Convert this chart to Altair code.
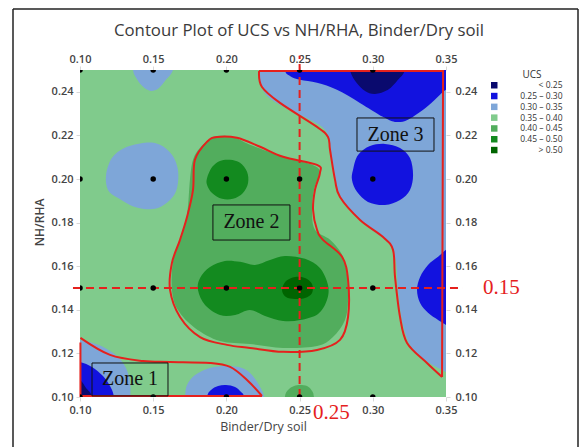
import altair as alt
import pandas as pd

FONT = "Open Sans"
SERIF = "Liberation Serif"
RED = "#e5211d"

X_TICKS = [0.10, 0.15, 0.20, 0.25, 0.30, 0.35]
Y_TICKS = [0.10, 0.12, 0.14, 0.16, 0.18, 0.20, 0.22, 0.24]
BANDS = ["<  0.25", "0.25  –  0.30", "0.30  –  0.35", "0.35  –  0.40",
         "0.40  –  0.45", "0.45  –  0.50", ">  0.50"]
BAND_COLORS = ["#0a0a6e", "#1212df", "#7ea6d8", "#80cb8c", "#52ad5d", "#138a1f", "#006400"]

DESIGN_X = [0.10, 0.15, 0.20, 0.25, 0.30]
DESIGN_Y = [0.10, 0.15, 0.20, 0.25]

# contour band regions, (Binder/Dry soil, NH/RHA)
BAND2_REGIONS = [
    [(0.134, 0.26), (0.1362, 0.25), (0.1383, 0.2465), (0.1424, 0.2428), (0.1478, 0.2405),
     (0.1533, 0.2414), (0.1587, 0.2455), (0.1635, 0.25), (0.166, 0.26)],
    [(0.1178, 0.2019), (0.1219, 0.2097), (0.1307, 0.2143), (0.1444, 0.2166), (0.1546, 0.2157),
     (0.1628, 0.2111), (0.1669, 0.2042), (0.1663, 0.1959), (0.1615, 0.1904), (0.1512, 0.1863),
     (0.1376, 0.1872), (0.1260, 0.1913), (0.1191, 0.1950)],
    [(0.2215, 0.26), (0.2223, 0.25), (0.2236, 0.2432), (0.2284, 0.2377), (0.2400, 0.2327),
     (0.2571, 0.2272), (0.2673, 0.2226), (0.2708, 0.2157), (0.2728, 0.2042), (0.2762, 0.1941),
     (0.2858, 0.1849), (0.2994, 0.1767), (0.3117, 0.1698), (0.3158, 0.1620), (0.3172, 0.1491),
     (0.3199, 0.1353), (0.3254, 0.1239), (0.3356, 0.1170), (0.35, 0.1115), (0.36, 0.108),
     (0.37, 0.20), (0.36, 0.26)],
    [(0.09, 0.127), (0.10, 0.1262), (0.1068, 0.1252), (0.1171, 0.1225), (0.1260, 0.1184),
     (0.1314, 0.1133), (0.1342, 0.1069), (0.1345, 0.10), (0.135, 0.09), (0.09, 0.09)],
    [(0.170, 0.09), (0.1717, 0.10), (0.1731, 0.1055), (0.1786, 0.1101), (0.1888, 0.1133),
     (0.2004, 0.1142), (0.2107, 0.1133), (0.2175, 0.1101), (0.2230, 0.1046), (0.2257, 0.10),
     (0.227, 0.09)],
]
BAND1_REGIONS = [
    [(0.239, 0.26), (0.2400, 0.25), (0.2434, 0.2473), (0.2503, 0.2455), (0.2619, 0.2441),
     (0.2755, 0.2409), (0.2912, 0.2349), (0.3069, 0.2285), (0.3151, 0.2262), (0.3240, 0.2272),
     (0.3370, 0.2331), (0.3459, 0.2386), (0.35, 0.2409), (0.36, 0.245), (0.36, 0.26)],
    [(0.2865, 0.2042), (0.2899, 0.2110), (0.2981, 0.2151), (0.3083, 0.2161), (0.3186, 0.2142),
     (0.3254, 0.2096), (0.3275, 0.2018), (0.3254, 0.1950), (0.3186, 0.1904), (0.3083, 0.1881),
     (0.2967, 0.1895), (0.2892, 0.1941), (0.2858, 0.1995)],
    [(0.36, 0.172), (0.35, 0.1675), (0.3446, 0.1643), (0.3377, 0.1606), (0.3323, 0.1551),
     (0.3302, 0.1491), (0.3323, 0.1431), (0.3377, 0.1386), (0.3446, 0.1353), (0.35, 0.1330),
     (0.36, 0.128)],
    [(0.09, 0.117), (0.10, 0.1161), (0.1082, 0.1138), (0.1157, 0.1096), (0.1205, 0.1050),
     (0.1232, 0.10), (0.124, 0.09), (0.09, 0.09)],
    [(0.1855, 0.09), (0.1868, 0.10), (0.1895, 0.1032), (0.1943, 0.1050), (0.1997, 0.1055),
     (0.2059, 0.1046), (0.2100, 0.1023), (0.2120, 0.10), (0.213, 0.09)],
]
BAND0_REGIONS = [
    [(0.283, 0.26), (0.2844, 0.25), (0.2885, 0.2445), (0.2947, 0.2404), (0.3015, 0.2390),
     (0.3104, 0.2409), (0.3172, 0.2455), (0.3220, 0.25), (0.324, 0.26)],
    [(0.09, 0.111), (0.10, 0.1078), (0.1041, 0.1041), (0.1082, 0.10), (0.109, 0.09), (0.09, 0.09)],
]
BAND4_REGIONS = [
    [(0.1772, 0.2088), (0.1820, 0.2143), (0.1888, 0.2184), (0.1956, 0.2198), (0.2059, 0.2189),
     (0.2161, 0.2157), (0.2387, 0.2102), (0.2605, 0.2060), (0.2633, 0.2019), (0.2598, 0.1950),
     (0.2585, 0.1858), (0.2605, 0.1767), (0.2708, 0.1721), (0.2790, 0.1652), (0.2824, 0.1560),
     (0.2831, 0.1445), (0.2810, 0.1353), (0.2728, 0.1275), (0.2619, 0.1234), (0.2387, 0.1225),
     (0.2161, 0.1243), (0.1956, 0.1257), (0.1785, 0.1317), (0.1669, 0.1399), (0.1628, 0.1491),
     (0.1635, 0.1620), (0.1683, 0.1721), (0.1731, 0.1835), (0.1751, 0.1996)],
    [(0.239, 0.09), (0.2400, 0.10), (0.2421, 0.1032), (0.2462, 0.1050), (0.2503, 0.1055),
     (0.2551, 0.1050), (0.2585, 0.1028), (0.2598, 0.10), (0.261, 0.09)],
]
BAND5_REGIONS = [
    [(0.1868, 0.2005), (0.1902, 0.2055), (0.1956, 0.2083), (0.2025, 0.2088), (0.2093, 0.2074),
     (0.2141, 0.2033), (0.2148, 0.1982), (0.2113, 0.1936), (0.2045, 0.1909), (0.1970, 0.1909),
     (0.1902, 0.1936), (0.1868, 0.1973)],
    [(0.1806, 0.1491), (0.1820, 0.1546), (0.1888, 0.1596), (0.1990, 0.1624), (0.2093, 0.1620),
     (0.2195, 0.1606), (0.2298, 0.1629), (0.2400, 0.1647), (0.2537, 0.1634), (0.2639, 0.1592),
     (0.2694, 0.1514), (0.2687, 0.1445), (0.2626, 0.1381), (0.2503, 0.1353), (0.2387, 0.1349),
     (0.2264, 0.1372), (0.2161, 0.1399), (0.2059, 0.1376), (0.1956, 0.1376), (0.1854, 0.1422)],
]
BAND6_REGIONS = [
    [(0.2380, 0.1491), (0.2407, 0.1532), (0.2469, 0.1551), (0.2537, 0.1546), (0.2585, 0.1518),
     (0.2585, 0.1477), (0.2537, 0.1454), (0.2469, 0.1450), (0.2407, 0.1459)],
]

# hand-drawn red zone outlines
ZONE2_OUTLINE = [(0.1785, 0.2088), (0.1868, 0.2171), (0.1936, 0.2193), (0.2072, 0.2189),
                 (0.2230, 0.2148), (0.2387, 0.2102), (0.2619, 0.2065), (0.2639, 0.2028),
                 (0.2605, 0.1950), (0.2592, 0.1858), (0.2619, 0.1767), (0.2660, 0.1721),
                 (0.2790, 0.1643), (0.2831, 0.1537), (0.2831, 0.1367), (0.2776, 0.1262),
                 (0.2619, 0.1216), (0.2387, 0.1207), (0.2161, 0.1225), (0.2004, 0.1239),
                 (0.1820, 0.1275), (0.1683, 0.1367), (0.1615, 0.1491), (0.1628, 0.1615),
                 (0.1683, 0.1721), (0.1731, 0.1826), (0.1772, 0.1950)]
ZONE3_CURVE = [(0.2223, 0.2495), (0.2243, 0.2422), (0.2366, 0.2349), (0.2619, 0.2239),
               (0.2694, 0.2193), (0.2708, 0.2133), (0.2742, 0.1996), (0.2776, 0.1917),
               (0.2913, 0.1812), (0.3070, 0.1734), (0.3138, 0.1675), (0.3152, 0.1550),
               (0.3186, 0.1367), (0.3234, 0.1248), (0.3370, 0.1156), (0.3473, 0.1092)]
ZONE3_EDGE = [(0.3473, 0.1092), (0.3480, 0.2495), (0.2223, 0.2495)]
ZONE1_CURVE = [(0.1003, 0.1271), (0.1205, 0.1193), (0.1430, 0.1165), (0.1615, 0.1161),
               (0.1888, 0.1156), (0.2025, 0.1138), (0.2141, 0.1078), (0.2243, 0.1005)]
ZONE1_EDGE = [(0.2243, 0.1005), (0.1003, 0.1005), (0.1003, 0.1250)]

ZONE_NAMES = ["Zone 1", "Zone 2", "Zone 3"]
ZONE_BOX_X = [0.1082, 0.1908, 0.2892]
ZONE_BOX_X2 = [0.1601, 0.2434, 0.3418]
ZONE_BOX_Y = [0.1005, 0.1720, 0.2128]
ZONE_BOX_Y2 = [0.1156, 0.1881, 0.2280]

REF_X = 0.25
REF_Y = 0.15
REF_LABELS = ["0.15", "0.25"]
REF_LABEL_X = [0.3753, 0.2591]
REF_LABEL_Y = [0.15, 0.0927]

# ---------------------------------------------------------------
xs = alt.Scale(domain=[0.10, 0.35], nice=False, zero=False)
ys = alt.Scale(domain=[0.10, 0.25], nice=False, zero=False)
fill_scale = alt.Scale(domain=BANDS, range=BAND_COLORS)

axis_common = dict(domain=False, grid=False, tickColor="#d8d8d8", tickSize=4,
                   labelFont=FONT, labelFontSize=11, labelFontWeight=600,
                   labelColor="#444444", labelFlush=False, labelOverlap=False,
                   format=".2f")
bottom_axis = alt.Axis(orient="bottom", values=X_TICKS, title="Binder/Dry soil", labelPadding=3,
                       titleFont=FONT, titleFontSize=12.5, titleFontWeight="normal",
                       titleColor="#444444", titleY=29, titleBaseline="middle", **axis_common)
top_axis = alt.Axis(orient="top", values=X_TICKS, title=None, labelPadding=2, **axis_common)
left_axis = alt.Axis(orient="left", values=Y_TICKS, title="NH/RHA", labelPadding=3,
                     titleFont=FONT, titleFontSize=12, titleFontWeight=600,
                     titleColor="#444444", titleX=-41, titleY=152, titleAngle=270,
                     titleBaseline="middle", **axis_common)
right_axis = alt.Axis(orient="right", values=Y_TICKS, title=None, labelPadding=5, **axis_common)

legend = alt.Legend(title=None, orient="none", legendX=410, legendY=11, padding=0,
                    symbolType="square", symbolSize=42, symbolStrokeWidth=0,
                    labelFont=FONT, labelFontSize=8.5, labelColor="#333333",
                    labelAlign="right", labelOffset=64, labelLimit=200, rowPadding=1.8)


def poly_frame(regions, band):
    rows = []
    for pid, pts in enumerate(regions):
        for i, (x, y) in enumerate(pts):
            rows.append({"pid": pid, "i": i, "x": x, "y": y, "band": BANDS[band]})
    return pd.DataFrame(rows)


def band_layer(regions, band):
    return alt.Chart(poly_frame(regions, band)).mark_line(
        interpolate="cardinal-closed", clip=True, strokeWidth=0, strokeOpacity=0
    ).encode(
        x=alt.X("x:Q", scale=xs, axis=None),
        y=alt.Y("y:Q", scale=ys, axis=None),
        detail="pid:N",
        order="i:Q",
        fill=alt.Fill("band:N", scale=fill_scale, legend=None),
    )


def outline_layer(paths, interp):
    rows = []
    for pid, pts in enumerate(paths):
        for i, (x, y) in enumerate(pts):
            rows.append({"pid": pid, "i": i, "x": x, "y": y})
    return alt.Chart(pd.DataFrame(rows)).mark_line(
        interpolate=interp, color=RED, strokeWidth=2
    ).encode(
        x=alt.X("x:Q", scale=xs, axis=None),
        y=alt.Y("y:Q", scale=ys, axis=None),
        detail="pid:N",
        order="i:Q",
    )


bg = alt.Chart(pd.DataFrame({"x": [0.10], "x2": [0.35], "y": [0.10], "y2": [0.25],
                             "band": [BANDS[3]]})).mark_rect().encode(
    x=alt.X("x:Q", scale=xs, axis=bottom_axis),
    x2="x2:Q",
    y=alt.Y("y:Q", scale=ys, axis=left_axis),
    y2="y2:Q",
    fill=alt.Fill("band:N", scale=fill_scale, legend=legend),
)

bands = [band_layer(BAND2_REGIONS, 2), band_layer(BAND1_REGIONS, 1), band_layer(BAND0_REGIONS, 0),
         band_layer(BAND4_REGIONS, 4), band_layer(BAND5_REGIONS, 5), band_layer(BAND6_REGIONS, 6)]

outlines = [outline_layer([ZONE2_OUTLINE], "cardinal-closed"),
            outline_layer([ZONE3_CURVE, ZONE1_CURVE], "cardinal"),
            outline_layer([ZONE3_EDGE, ZONE1_EDGE], "linear")]

vline = alt.Chart(pd.DataFrame({"x": [REF_X], "y": [0.10], "y2": [0.2565]})).mark_rule(
    color=RED, strokeWidth=2, strokeDash=[8, 5]).encode(
    x=alt.X("x:Q", scale=xs, axis=None), y=alt.Y("y:Q", scale=ys, axis=None), y2="y2:Q")
hline = alt.Chart(pd.DataFrame({"y": [REF_Y], "x": [0.0952], "x2": [0.3616]})).mark_rule(
    color=RED, strokeWidth=2, strokeDash=[8, 5]).encode(
    y=alt.Y("y:Q", scale=ys, axis=None), x=alt.X("x:Q", scale=xs, axis=None), x2="x2:Q")

ref_text = alt.Chart(pd.DataFrame({"t": REF_LABELS, "x": REF_LABEL_X, "y": REF_LABEL_Y})).mark_text(
    font=SERIF, fontSize=21, color=RED, align="left", baseline="middle").encode(
    x=alt.X("x:Q", scale=xs, axis=None), y=alt.Y("y:Q", scale=ys, axis=None), text="t:N")

dots = alt.Chart(pd.DataFrame([{"x": x, "y": y} for x in DESIGN_X for y in DESIGN_Y])).mark_circle(
    size=30, color="black", opacity=1, clip=True).encode(
    x=alt.X("x:Q", scale=xs, axis=top_axis),
    y=alt.Y("y:Q", scale=ys, axis=right_axis),
)

boxes_df = pd.DataFrame({"name": ZONE_NAMES, "x": ZONE_BOX_X, "x2": ZONE_BOX_X2,
                         "y": ZONE_BOX_Y, "y2": ZONE_BOX_Y2})
boxes = alt.Chart(boxes_df).mark_rect(fill="transparent", stroke="#111111", strokeWidth=1).encode(
    x=alt.X("x:Q", scale=xs, axis=None), x2="x2:Q",
    y=alt.Y("y:Q", scale=ys, axis=None), y2="y2:Q")
boxes_df["cx"] = (boxes_df["x"] + boxes_df["x2"]) / 2
boxes_df["cy"] = (boxes_df["y"] + boxes_df["y2"]) / 2
zone_text = alt.Chart(boxes_df).mark_text(font=SERIF, fontSize=20, color="#111111",
                                          baseline="middle").encode(
    x=alt.X("cx:Q", scale=xs, axis=None), y=alt.Y("cy:Q", scale=ys, axis=None), text="name:N")

one = pd.DataFrame({"a": [0]})
title = alt.Chart(one).mark_text(text="Contour Plot of UCS vs NH/RHA, Binder/Dry soil", font=FONT,
                                 fontSize=16.8, color="#3a3a3a", baseline="middle").encode(
    x=alt.value(219), y=alt.value(-39))
ucs = alt.Chart(one).mark_text(text="UCS", font=FONT, fontSize=10, color="#333333",
                               baseline="middle").encode(x=alt.value(452), y=alt.value(5))
frame = [
    alt.Chart(one).mark_rule(color="#222222", strokeWidth=1.5).encode(
        x=alt.value(-67), y=alt.value(-61), y2=alt.value(390)),
    alt.Chart(one).mark_rule(color="#222222", strokeWidth=1.5).encode(
        x=alt.value(498), y=alt.value(-61), y2=alt.value(390)),
    alt.Chart(one).mark_rule(color="#222222", strokeWidth=1.5).encode(
        x=alt.value(-67), x2=alt.value(498), y=alt.value(-61)),
]

chart = alt.layer(
    bg, *bands, *outlines, vline, hline, dots, boxes, zone_text, ref_text, title, ucs, *frame
).resolve_axis(x="independent", y="independent").properties(
    width=366, height=327,
    padding={"left": 80, "top": 70, "right": 135, "bottom": 50},
    autosize="none",
    background="white",
).configure_view(stroke=None)

chart.save("out.html", embed_options={"renderer": "svg", "actions": False})
